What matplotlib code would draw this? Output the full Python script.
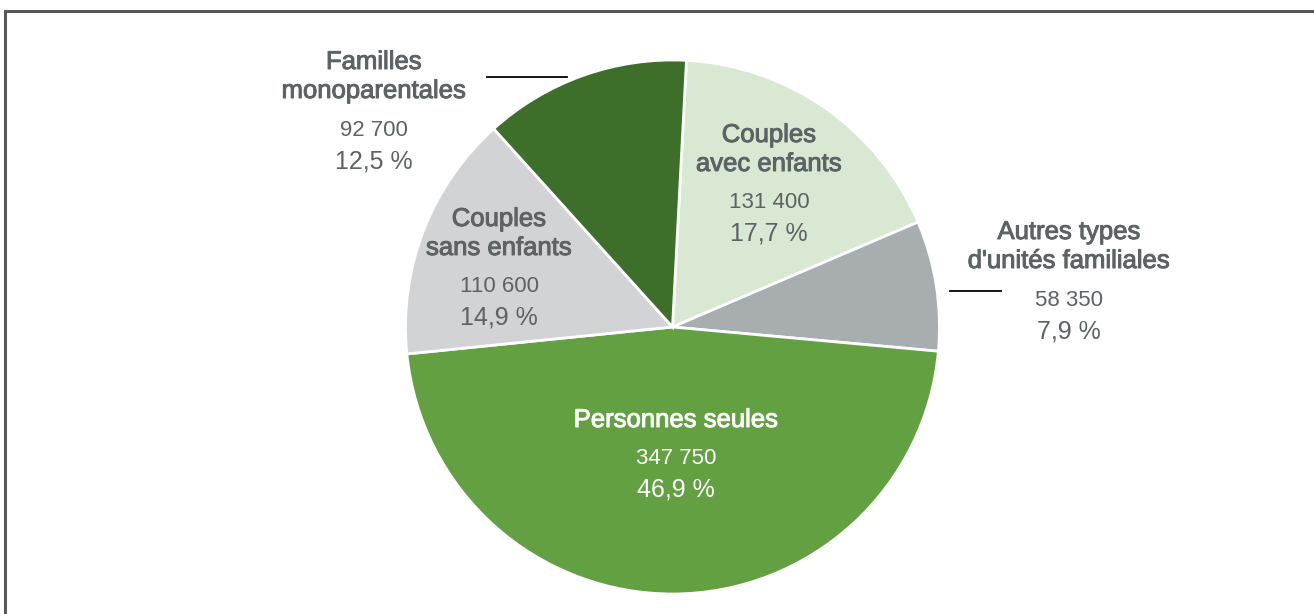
import matplotlib
matplotlib.use("Agg")
import matplotlib.pyplot as plt
import matplotlib.patheffects as pe
from matplotlib.lines import Line2D

# Data (clockwise from top)
labels = ["Couples\navec enfants", "Autres types\nd'unités familiales", "Personnes seules",
          "Couples\nsans enfants", "Familles\nmonoparentales"]
values = [131400, 58350, 347750, 110600, 92700]
value_text = ["131 400", "58 350", "347 750", "110 600", "92 700"]
pct_text = ["17,7 %", "7,9 %", "46,9 %", "14,9 %", "12,5 %"]
colors = ["#d9e8d2", "#a8adaf", "#62a042", "#d1d3d4", "#3d6f2a"]

# label positions in pixels (x, y of first label line)
label_px = [(769, 135), (1069, 232), (676, 420), (499, 219), (374, 62)]
text_colors = ["#5d6264", "#5d6264", "white", "#5d6264", "#5d6264"]

plt.rcParams["font.family"] = ["Liberation Sans", "DejaVu Sans"]

W, H = 1314, 614
cx, cy, r = 672.5, 327, 267

fig = plt.figure(figsize=(W / 100, H / 100), dpi=100)
ax = fig.add_axes([(cx - r) / W, (H - cy - r) / H, 2 * r / W, 2 * r / H])
ax.pie(values, colors=colors, startangle=87, counterclock=False, radius=1,
       wedgeprops=dict(edgecolor="white", linewidth=2))
ax.set_xlim(-1, 1)
ax.set_ylim(-1, 1)
ax.axis("off")


def to_data(px, py):
    return (px - cx) / r, (cy - py) / r


for lab, v, p, (px, py), tc in zip(labels, value_text, pct_text, label_px, text_colors):
    lines = lab.split("\n")
    for i, line in enumerate(lines):
        x, y = to_data(px, py + 29 * i)
        ax.text(x, y, line, ha="center", va="center", fontsize=18.5, color=tc,
                clip_on=False,
                path_effects=[pe.withStroke(linewidth=0.7, foreground=tc)])
    nl = len(lines) - 1
    x, y2 = to_data(px, py + 29 * nl + 39)
    ax.text(x, y2, v, ha="center", va="center", fontsize=16, color=tc, clip_on=False)
    x, y3 = to_data(px, py + 29 * nl + 70)
    ax.text(x, y3, p, ha="center", va="center", fontsize=18, color=tc, clip_on=False)

# leader lines
for (x0, x1, yy) in [(487, 567, 77), (950, 1001, 291)]:
    a = to_data(x0, yy)
    b = to_data(x1, yy)
    ax.plot([a[0], b[0]], [a[1], b[1]], color="black", lw=1.3, clip_on=False)

# frame
fig.add_artist(Line2D([5 / W, 5 / W], [0, 1 - 11 / H], transform=fig.transFigure,
                      color="#58585a", lw=2.2))
fig.add_artist(Line2D([5 / W, 1], [1 - 11 / H, 1 - 11 / H], transform=fig.transFigure,
                      color="#58585a", lw=2.2))

fig.savefig("out.png", dpi=100)
